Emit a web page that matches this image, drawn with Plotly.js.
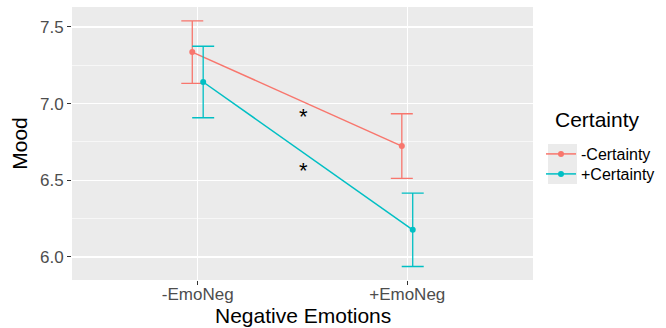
<!DOCTYPE html>
<html>
<head>
<meta charset="utf-8">
<script src="https://cdn.plot.ly/plotly-3.0.1.min.js"></script>
<style>html,body{margin:0;padding:0;background:#fff;}#chart{width:666px;height:328px;}</style>
</head>
<body>
<div id="chart"></div>
<script>
const categories = ["-EmoNeg", "+EmoNeg"];
const seriesNames = ["-Certainty", "+Certainty"];
const moodMinusCertainty = [7.336, 6.723];
const errMinusCertainty = [0.204, 0.211];
const moodPlusCertainty = [7.141, 6.177];
const errPlusCertainty = [0.233, 0.239];
const yTickVals = [6.0, 6.5, 7.0, 7.5];
const starLabels = ["*", "*"];
const starY = [6.937, 6.586];
const legendTitle = "Certainty";
const xTitle = "Negative Emotions";
const yTitle = "Mood";

const catPos = categories.map((c, i) => i + 1);
const dodge = 0.026;
const FONT = "Liberation Sans, Arial, sans-serif";
const RED = "#F8766D", BLUE = "#00BFC4";
const W = 666, H = 328, ML = 72, MR = 133, MT = 7, MB = 48;
const PW = W - ML - MR, PH = H - MT - MB;
const px2paperX = px => (px - ML) / PW;
const py2paperY = py => (H - MB - py) / PH;

function mkTrace(name, y, err, color, off, legendId) {
  return {
    type: "scatter", mode: "lines+markers", name: name, legend: legendId,
    x: catPos.map(p => p + off), y: y,
    line: {color: color, width: 1.5},
    marker: {color: color, size: 6},
    error_y: {type: "data", array: err, visible: true, color: color, thickness: 1.3, width: 11}
  };
}

const data = [
  mkTrace(seriesNames[0], moodMinusCertainty, errMinusCertainty, RED, -dodge, "legend"),
  mkTrace(seriesNames[1], moodPlusCertainty, errPlusCertainty, BLUE, dodge, "legend2")
];

const annotations = starLabels.map((t, i) => ({
  x: 1.5, y: starY[i], xref: "x", yref: "y", text: t, showarrow: false,
  font: {family: FONT, size: 22, color: "#000"}, yshift: -3, xshift: 1
}));
annotations.push({
  xref: "paper", yref: "paper", x: 0.5, y: 0, yanchor: "top", yshift: -22,
  text: xTitle, showarrow: false,
  font: {family: FONT, size: 21, color: "#000"}
});
annotations.push({
  xref: "paper", yref: "paper", x: px2paperX(553), xanchor: "left", y: py2paperY(120), yanchor: "middle",
  text: legendTitle, showarrow: false,
  font: {family: FONT, size: 21, color: "#000"}
});

const legendBase = {
  xref: "container", yref: "container",
  xanchor: "left", yanchor: "middle", bgcolor: "rgba(0,0,0,0)",
  font: {family: FONT, size: 16, color: "#000"}, itemwidth: 30
};

const layout = {
  width: W, height: H,
  margin: {l: ML, r: MR, t: MT, b: MB},
  paper_bgcolor: "#fff", plot_bgcolor: "#EBEBEB",
  font: {family: FONT},
  showlegend: true,
  xaxis: {
    range: [0.4, 2.6], tickvals: catPos, ticktext: categories,
    showgrid: true, gridcolor: "#fff", gridwidth: 1.3, zeroline: false,
    ticks: "outside", ticklen: 4, tickcolor: "#333", tickwidth: 1,
    tickfont: {family: FONT, size: 17, color: "#4D4D4D"},
    ticklabelstandoff: -5,
    showline: false
  },
  yaxis: {
    range: [5.85, 7.63], tickvals: yTickVals, ticktext: yTickVals.map(v => v.toFixed(1)),
    showgrid: true, gridcolor: "#fff", gridwidth: 1.3, zeroline: false,
    ticks: "outside", ticklen: 4, tickcolor: "#333", tickwidth: 1,
    tickfont: {family: FONT, size: 17, color: "#4D4D4D"},
    minor: {tickvals: [6.25, 6.75, 7.25], showgrid: true, gridcolor: "#fff", gridwidth: 0.6, ticks: ""},
    title: {text: yTitle, font: {family: FONT, size: 21, color: "#000"}, standoff: 6},
    showline: false
  },
  legend: Object.assign({x: 541 / W, y: 1 - 154 / H}, legendBase),
  legend2: Object.assign({x: 541 / W, y: 1 - 174 / H}, legendBase),
  shapes: [{
    type: "rect", xref: "paper", yref: "paper",
    x0: px2paperX(548), x1: px2paperX(577),
    y0: py2paperY(184), y1: py2paperY(144),
    fillcolor: "#EBEBEB", line: {width: 0}, layer: "below"
  }],
  annotations: annotations
};

Plotly.newPlot("chart", data, layout, {displayModeBar: false, staticPlot: true});
</script>
</body>
</html>
